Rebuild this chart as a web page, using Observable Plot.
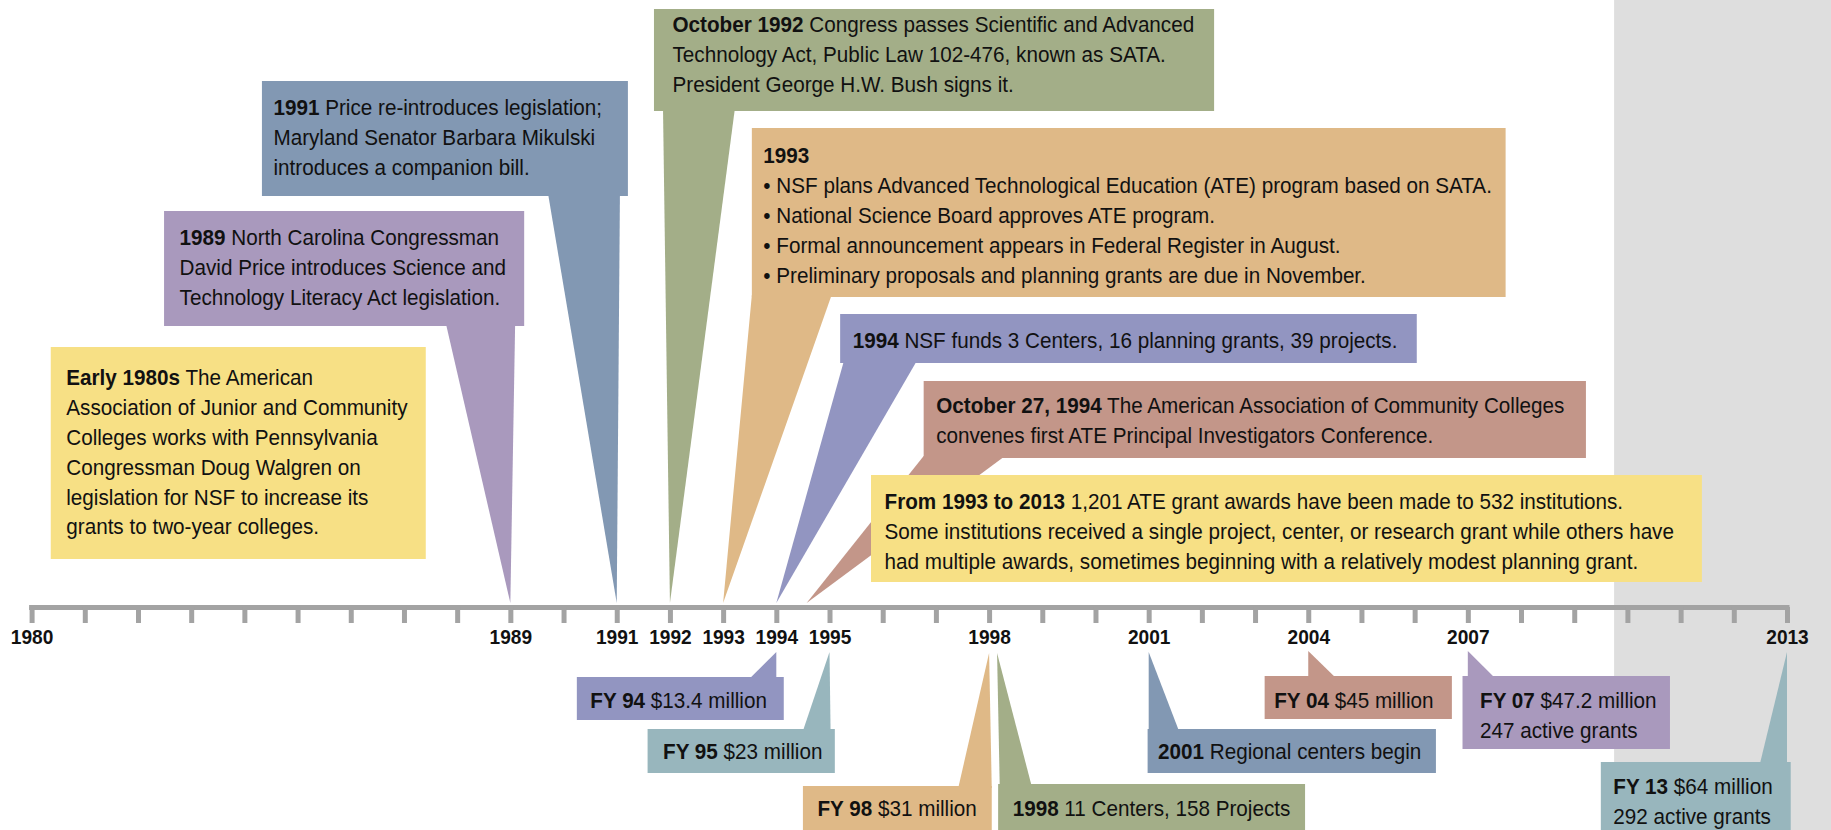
<!DOCTYPE html>
<html><head><meta charset="utf-8">
<script src="https://cdn.jsdelivr.net/npm/d3@7"></script>
<script src="https://cdn.jsdelivr.net/npm/@observablehq/plot@0.6"></script>
<style>
html,body{margin:0;padding:0;background:#fff;overflow:hidden}
#chart svg text{white-space:pre}
</style>
</head><body><div id="chart"></div>
<script>
// ---------------- DATA ----------------
const tickYears = [1980,1981,1982,1983,1984,1985,1986,1987,1988,1989,1990,1991,1992,1993,1994,1995,1996,1997,1998,1999,2000,2001,2002,2003,2004,2005,2006,2007,2008,2009,2010,2011,2012,2013];
const labeledYears = [1980,1989,1991,1992,1993,1994,1995,1998,2001,2004,2007,2013];
const shadedFromYear = 2009.75;

const milestoneYears = [1980, 1989, 1991, 1992, 1993, 1994, 1994, 1993, 1998, 2001];
const milestoneLabels = ["Early 1980s", "1989", "1991", "October 1992", "1993", "1994", "October 27, 1994", "From 1993 to 2013", "1998", "2001"];
const milestoneTexts = [
  " The American\nAssociation of Junior and Community\nColleges works with Pennsylvania\nCongressman Doug Walgren on\nlegislation for NSF to increase its\ngrants to two-year colleges.",
  " North Carolina Congressman\nDavid Price introduces Science and\nTechnology Literacy Act legislation.",
  " Price re-introduces legislation;\nMaryland Senator Barbara Mikulski\nintroduces a companion bill.",
  " Congress passes Scientific and Advanced\nTechnology Act, Public Law 102-476, known as SATA.\nPresident George H.W. Bush signs it.",
  "\n\u2022 NSF plans Advanced Technological Education (ATE) program based on SATA.\n\u2022 National Science Board approves ATE program.\n\u2022 Formal announcement appears in Federal Register in August.\n\u2022 Preliminary proposals and planning grants are due in November.",
  " NSF funds 3 Centers, 16 planning grants, 39 projects.",
  " The American Association of Community Colleges\nconvenes first ATE Principal Investigators Conference.",
  " 1,201 ATE grant awards have been made to 532 institutions.\nSome institutions received a single project, center, or research grant while others have\nhad multiple awards, sometimes beginning with a relatively modest planning grant.",
  " 11 Centers, 158 Projects",
  " Regional centers begin"
];

const fundingYears = [1994, 1995, 1998, 2004, 2007, 2013];
const fundingMillions = [13.4, 23, 31, 45, 47.2, 64];
const activeGrants = [null, null, null, null, 247, 292];

// ---------------- STYLE / LAYOUT ----------------
const C = {
  yellow: "#f7e085", purple: "#a999bd", bluegray: "#8298b3", green: "#a3ae88",
  tan: "#dfb987", peri: "#9295c1", brown: "#c39689", teal: "#98b6bd"
};
const calloutColors = [C.yellow, C.purple, C.bluegray, C.green, C.tan, C.peri, C.brown, C.yellow, C.green, C.bluegray,
  C.peri, C.teal, C.tan, C.brown, C.purple, C.teal];

// box extents (x in years, y in vertical layout units), text padding, pointer base (years) and tip
const layout = [
  {x1:1980.36, x2:1987.41, y1:347, y2:559, padL:15, padT:22, ptr:null},
  {x1:1982.49, x2:1989.26, y1:211, y2:326, padL:15, padT:18, ptr:{b1:1987.79, b2:1989.09, tipY:603}},
  {x1:1984.33, x2:1991.21, y1:81,  y2:196, padL:11, padT:18, ptr:{b1:1989.71, b2:1991.06, tipY:603}},
  {x1:1991.70, x2:2002.23, y1:9,   y2:111, padL:18, padT:7,  ptr:{b1:1991.87, b2:1993.22, tipY:603}},
  {x1:1993.54, x2:2007.71, y1:128, y2:297, padL:11, padT:19, ptr:{b1:1993.54, b2:1995.04, tipY:603}},
  {x1:1995.20, x2:2006.04, y1:314, y2:363, padL:12, padT:18, ptr:{b1:1995.27, b2:1996.64, tipY:603}},
  {x1:1996.77, x2:2009.22, y1:381, y2:458, padL:12, padT:16, ptr:{b1:1996.77, b2:1998.30, tipY:603, tip:1994.57}},
  {x1:1995.78, x2:2011.40, y1:475, y2:582, padL:13, padT:18, ptr:null},
  {x1:1998.17, x2:2003.94, y1:784, y2:835, padL:14, padT:16, ptr:{b1:1998.20, b2:1998.80, tipY:653, tip:1998.15}},
  {x1:2000.98, x2:2006.40, y1:729, y2:773, padL:10, padT:14, ptr:{b1:2001.00, b2:2001.57, tipY:652}},
  {x1:1990.25, x2:1994.14, y1:677, y2:720, padL:13, padT:15, ptr:{b1:1993.49, b2:1994.00, tipY:652}},
  {x1:1991.58, x2:1995.10, y1:729, y2:773, padL:15, padT:14, ptr:{b1:1994.50, b2:1995.02, tipY:652}},
  {x1:1994.50, x2:1998.05, y1:786, y2:835, padL:14, padT:14, ptr:{b1:1997.42, b2:1998.05, tipY:653}},
  {x1:2003.18, x2:2006.70, y1:676, y2:719, padL:9,  padT:16, ptr:{b1:2004.00, b2:2004.52, tipY:651}},
  {x1:2006.90, x2:2010.80, y1:676, y2:749, padL:17, padT:16, ptr:{b1:2007.00, b2:2007.51, tipY:651}},
  {x1:2009.50, x2:2013.07, y1:762, y2:835, padL:12, padT:16, ptr:{b1:2012.49, b2:2013.00, tipY:652}}
];

const W = 1831, H = 830, AXIS_Y = 607;
const FONT = "'Liberation Sans',Arial,Helvetica,sans-serif";
const FS = 22, LH = 29.8, SX = 0.94;     // body text size, line height, horizontal condensing
const AXIS_FS = 21, AXIS_SX = 0.91;
const AXIS_GREY = "#a3a3a3";

// ---------------- BUILD ----------------
const callouts = [];
milestoneYears.forEach((y, i) => callouts.push({year: y, bold: milestoneLabels[i], rest: milestoneTexts[i]}));
fundingYears.forEach((y, i) => {
  let rest = " $" + fundingMillions[i] + " million";
  if (activeGrants[i] != null) rest += "\n" + activeGrants[i] + " active grants";
  callouts.push({year: y, bold: "FY " + String(y).slice(2), rest});
});
callouts.forEach((c, i) => { c.layout = layout[i]; c.color = calloutColors[i]; });

const marks = [];
marks.push(Plot.rect([{x1: shadedFromYear, x2: 2015}], {x1: "x1", x2: "x2", y1: 0, y2: H, fill: "#dedede"}));

// pointers (behind boxes)
callouts.forEach(c => {
  const L = c.layout, p = L.ptr;
  if (!p) return;
  const tip = p.tip ?? c.year;
  const up = p.tipY > L.y2;
  const baseY = up ? L.y2 - 2 : L.y1 + 2;
  marks.push(Plot.areaX([{y: baseY, x1: p.b1, x2: p.b2}, {y: p.tipY, x1: tip, x2: tip}],
    {y: "y", x1: "x1", x2: "x2", fill: c.color, curve: "linear"}));
});

// boxes
callouts.forEach(c => {
  const L = c.layout;
  marks.push(Plot.rect([L], {x1: "x1", x2: "x2", y1: "y1", y2: "y2", fill: c.color}));
});

// texts
const DY = 0.72 * FS - 0.71 * LH;
callouts.forEach(c => {
  const L = c.layout;
  marks.push(Plot.text([c.bold + c.rest], {
    x: L.x1, y: L.y1 + L.padT, dx: L.padL, dy: DY, text: d => d,
    textAnchor: "start", lineAnchor: "top", lineHeight: LH / FS,
    fontSize: FS, fontFamily: FONT, fill: "#111"
  }));
});

// axis
marks.push(Plot.ruleY([AXIS_Y], {x1: 1980, x2: 2013, stroke: AXIS_GREY, strokeWidth: 5, strokeLinecap: "square"}));
marks.push(Plot.axisX({
  ticks: tickYears, tickFormat: d => labeledYears.includes(d) ? String(d) : "",
  tickSize: 16, tickPadding: 6, stroke: AXIS_GREY, strokeWidth: 5,
  fill: "#111", fontSize: AXIS_FS, fontWeight: "bold", fontFamily: FONT
}));

const svg = Plot.plot({
  width: W, height: H,
  marginLeft: 31.6, marginRight: 44, marginTop: 0, marginBottom: H - AXIS_Y,
  x: {domain: [1980, 2013], axis: null},
  y: {domain: [0, H], range: [0, H], axis: null},
  style: {fontFamily: FONT, background: "#fff", overflow: "hidden"},
  marks
});

// condense a text element horizontally about its anchor
function condense(t, s) {
  const tr = t.getAttribute("transform");
  if (tr) { t.setAttribute("transform", tr + ` scale(${s},1)`); return; }
  const x = +t.getAttribute("x") || 0, y = +t.getAttribute("y") || 0;
  t.removeAttribute("x"); t.removeAttribute("y");
  t.setAttribute("transform", `translate(${x},${y}) scale(${s},1)`);
}

// bold prefixes + condensing for callout texts
const texts = d3.select(svg).selectAll("g[aria-label='text'] text").nodes();
texts.forEach((t, i) => {
  const prefix = callouts[i].bold;
  const first = t.querySelector("tspan") || t;
  const line = first.textContent;
  const rest = line.slice(prefix.length);
  first.textContent = "";
  const b = document.createElementNS("http://www.w3.org/2000/svg", "tspan");
  b.setAttribute("font-weight", "bold");
  b.textContent = prefix;
  first.appendChild(b);
  if (rest) first.appendChild(document.createTextNode(rest));
  condense(t, SX);
});
d3.select(svg).selectAll("g[aria-label='x-axis tick label'] text").attr("font-weight", "bold").each(function() { condense(this, AXIS_SX); });

document.getElementById("chart").appendChild(svg);
</script>
</body></html>
